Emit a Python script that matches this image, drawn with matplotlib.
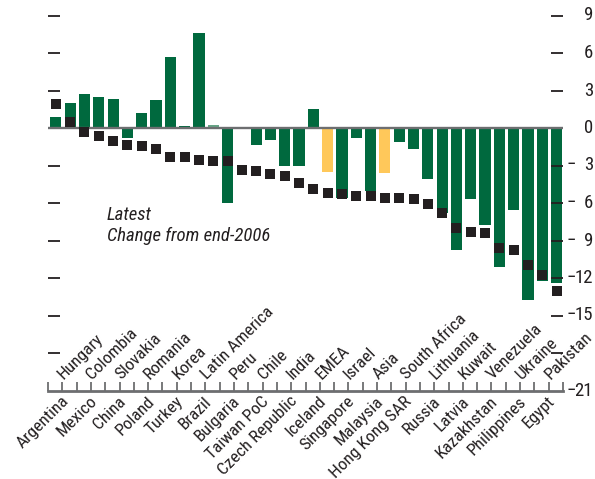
import matplotlib
matplotlib.use("Agg")
import matplotlib.pyplot as plt
import matplotlib.transforms as mtransforms
import numpy as np

plt.rcParams['font.family'] = ['Roboto Condensed', 'DejaVu Sans']

categories = ["Argentina", "Hungary", "Mexico", "Colombia", "China", "Slovakia",
              "Poland", "Romania", "Turkey", "Korea", "Brazil", "Latin America",
              "Bulgaria", "Peru", "Taiwan PoC", "Chile", "Czech Republic", "India",
              "Iceland", "EMEA", "Singapore", "Israel", "Malaysia", "Asia",
              "Hong Kong SAR", "South Africa", "Russia", "Lithuania", "Latvia",
              "Kuwait", "Kazakhstan", "Venezuela", "Philippines", "Ukraine",
              "Egypt", "Pakistan"]

latest = [0.88, 2.0, 2.72, 2.48, 2.32, -0.8, 1.2, 2.24, 5.68, 0.16, 7.6, 0.24,
          -5.97, 0.05, -1.36, -0.93, -3.02, -3.02, 1.52, -3.5, -5.6, -0.8,
          -5.04, -3.57, -1.12, -1.68, -4.05, -6.77, -9.73, -5.65, -7.76,
          -11.09, -6.56, -13.76, -12.21, -12.4]

change_2006 = [1.96, 0.52, -0.28, -0.6, -1.0, -1.32, -1.4, -1.64, -2.28, -2.28,
               -2.52, -2.6, -2.67, -3.32, -3.4, -3.64, -3.8, -4.36, -4.84, -5.16,
               -5.24, -5.4, -5.4, -5.56, -5.56, -5.64, -6.04, -6.76, -7.96, -8.28,
               -8.36, -9.56, -9.72, -10.92, -11.72, -13.0]

group = ["country"] * len(categories)
group[categories.index("Latin America")] = "latam"
group[categories.index("EMEA")] = "region"
group[categories.index("Asia")] = "region"

yticks = [9, 6, 3, 0, -3, -6, -9, -12, -15, -18, -21]
labelled_yticks = [9, 6, 3, 0, -3, -6, -9, -12, -15, -21]

GREEN = "#00693e"
LIGHT_GREEN = "#66a586"
YELLOW = "#ffc85a"
DARK = "#231f20"
GRAY = "#6d6e70"
colors = {"country": GREEN, "latam": LIGHT_GREEN, "region": YELLOW}

W, H = 595, 479
fig = plt.figure(figsize=(W / 100, H / 100), dpi=100)
ax = fig.add_axes([48 / W, (H - 390.5) / H, (563 - 48) / W, 390.5 / H])

x = np.arange(len(categories))
ax.bar(x + 0.05, latest, width=0.78, color=[colors[g] for g in group], zorder=1)
ax.axhline(0, color=GRAY, lw=1.7, zorder=2)
ax.plot(x + 0.05, change_2006, linestyle="none", marker="s", markersize=7.9,
        color=DARK, markeredgewidth=0, zorder=4)

ax.set_xlim(-0.5, len(categories) - 0.5)
ax.set_ylim(-21, 10.24)

for s in ["left", "right", "top"]:
    ax.spines[s].set_visible(False)
ax.spines["bottom"].set_color(GRAY)
ax.spines["bottom"].set_linewidth(2.0)

ax.set_xticks(np.arange(-0.5, len(categories), 1.0))
ax.set_xticklabels([])
ax.tick_params(axis="x", direction="in", length=6.5, width=1.3, color=GRAY)

ax.set_yticks([t for t in yticks if t != -21])
ax.set_yticklabels([])
ax.tick_params(axis="y", left=True, right=True, direction="in", length=8.4,
               width=1.3, color=DARK)

# right-side tick labels (minus sign set apart, digits right aligned)
tr = mtransforms.blended_transform_factory(ax.transAxes, ax.transData)
xr = (593 - 48) / 515
xm = (566.5 - 48) / 515
for v in labelled_yticks:
    ax.text(xr, v, str(abs(v)), transform=tr, ha="right", va="center",
            fontsize=13.5, color=DARK, clip_on=False)
    if v < 0:
        ax.text(xm, v, "\u2212", transform=tr, ha="left", va="center",
                fontsize=13.5, color=DARK, clip_on=False)

# category labels, alternating below / above the axis
for i, name in enumerate(categories):
    if i % 2 == 0:
        ax.text(i + 0.4, -21.25, name, rotation=45, rotation_mode="anchor",
                ha="right", va="top", fontsize=12.5, color=DARK, clip_on=False)
    else:
        ax.text(i - 0.4, -20.15, name, rotation=45, rotation_mode="anchor",
                ha="left", va="baseline", fontsize=12.5, color=DARK, clip_on=False)

fig.text(106.7 / W, 1 - 220 / H, "Latest", style="italic", fontsize=13.5,
         color=DARK, va="baseline", ha="left")
fig.text(106.7 / W, 1 - 240.7 / H, "Change from end-2006", style="italic",
         fontsize=13.5, color=DARK, va="baseline", ha="left")

fig.savefig("out.png", dpi=100)
